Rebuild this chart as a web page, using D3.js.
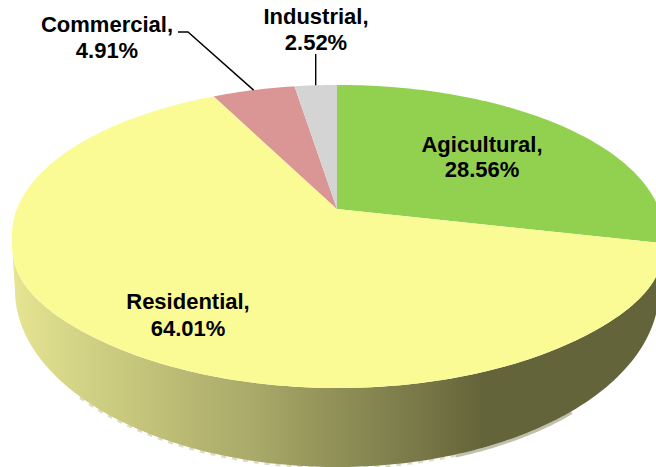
<!DOCTYPE html>
<html><head><meta charset="utf-8">
<script src="https://cdn.jsdelivr.net/npm/d3@7"></script>
<style>html,body{margin:0;padding:0;background:#fff;overflow:hidden}svg{display:block}</style></head>
<body><div id="chart"></div>
<script>
const categories = ["Agicultural","Residential","Commercial","Industrial"];
const values = [28.56,64.01,4.91,2.52];
const colors = ["#92d050","#fbfb96","#d99694","#d4d4d4"];
const sideOffsets = [0,0.17,0.38,0.5,0.63,0.73,1];
const sideColors = ["#e4e492","#c8c87e","#a8a868","#909058","#787848","#64643a","#64643c"];
const W=656,H=467;
const apex=[337,209], X=318, Y=146.5, P=-0.1815;

const svg=d3.select("#chart").append("svg").attr("width",W).attr("height",H);
// perspective mapping of the wedge angles onto the tilted disc
const proj=(a,s=1)=>{const u=Math.sin(a),v=-Math.cos(a),w=1+P*v;
  return [apex[0]+s*X*u/w, apex[1]+s*Y*v/w];};
const arcs=d3.pie().sort(null).value(d=>d)(values);
const line=d3.line();
const sweep=(a0,a1,n,f)=>d3.range(0,n+1).map(i=>f(a0+(a1-a0)*i/n));
// outer rims of the disc and of the wall underneath
const topRim=a=>{const c=Math.cos(a),s=Math.sin(a);
  return [338+326*s, c>0?235-150*c:235-153*c+10*Math.pow(s,8)];};
const lowRim=a=>[337+322*Math.sin(a),290-177*Math.cos(a)];
const TAU=Math.PI*2;

const defs=svg.append("defs");
const g=defs.append("linearGradient").attr("id","side")
  .attr("gradientUnits","userSpaceOnUse").attr("x1",15).attr("x2",656).attr("y1",0).attr("y2",0);
sideOffsets.forEach((o,i)=>g.append("stop").attr("offset",o).attr("stop-color",sideColors[i]));
defs.append("clipPath").attr("id","disc").append("path").attr("d",line(sweep(0,TAU,360,topRim))+"Z");

// pale fringe under the wall
const shift=(p,d)=>[p[0],p[1]+d];
svg.append("path").attr("d",line(sweep(Math.PI*0.74,Math.PI*0.88,40,a=>shift(lowRim(a),1.5))))
  .attr("fill","none").attr("stroke","#c0c0ac").attr("stroke-width",3);
svg.append("path").attr("d",line(sweep(Math.PI*0.88,Math.PI*1.3,120,a=>shift(lowRim(a),1))))
  .attr("fill","none").attr("stroke","#dcdcc6").attr("stroke-width",2.5).attr("stroke-dasharray","5 6");
// wall
const sidePts=sweep(Math.PI*0.52,Math.PI*1.48,180,topRim).concat(sweep(Math.PI*0.5,Math.PI*1.5,180,lowRim).reverse());
svg.append("path").attr("d",line(sidePts)+"Z").attr("fill","url(#side)");
// slices
svg.append("g").attr("clip-path","url(#disc)").selectAll("path").data(arcs).join("path")
  .attr("d",d=>line([apex].concat(sweep(d.startAngle,d.endAngle,120,a=>proj(a,1.3))))+"Z")
  .attr("fill",(d,i)=>colors[i]);
// leaders
const mid=i=>(arcs[i].startAngle+arcs[i].endAngle)/2;
const c=proj(mid(2)), n=proj(mid(3));
svg.append("path").attr("d",line([[178,32],[188,32],c])).attr("fill","none").attr("stroke","#000").attr("stroke-width",1.4);
svg.append("path").attr("d",line([[n[0],54],n])).attr("fill","none").attr("stroke","#000").attr("stroke-width",1.4);
// labels
const labelX=[482,188,107,316], labelY=[152,309,32,24], labelGap=[25,27,26,26];
categories.forEach((name,i)=>{
  const t=svg.append("text").attr("text-anchor","middle").attr("font-family","Liberation Sans, Arial, sans-serif")
    .attr("font-weight","bold").attr("font-size",22).attr("fill","#000");
  t.append("tspan").attr("x",labelX[i]).attr("y",labelY[i]).text(name+",");
  t.append("tspan").attr("x",labelX[i]).attr("y",labelY[i]+labelGap[i]).text(values[i].toFixed(2)+"%");
});
</script></body></html>
